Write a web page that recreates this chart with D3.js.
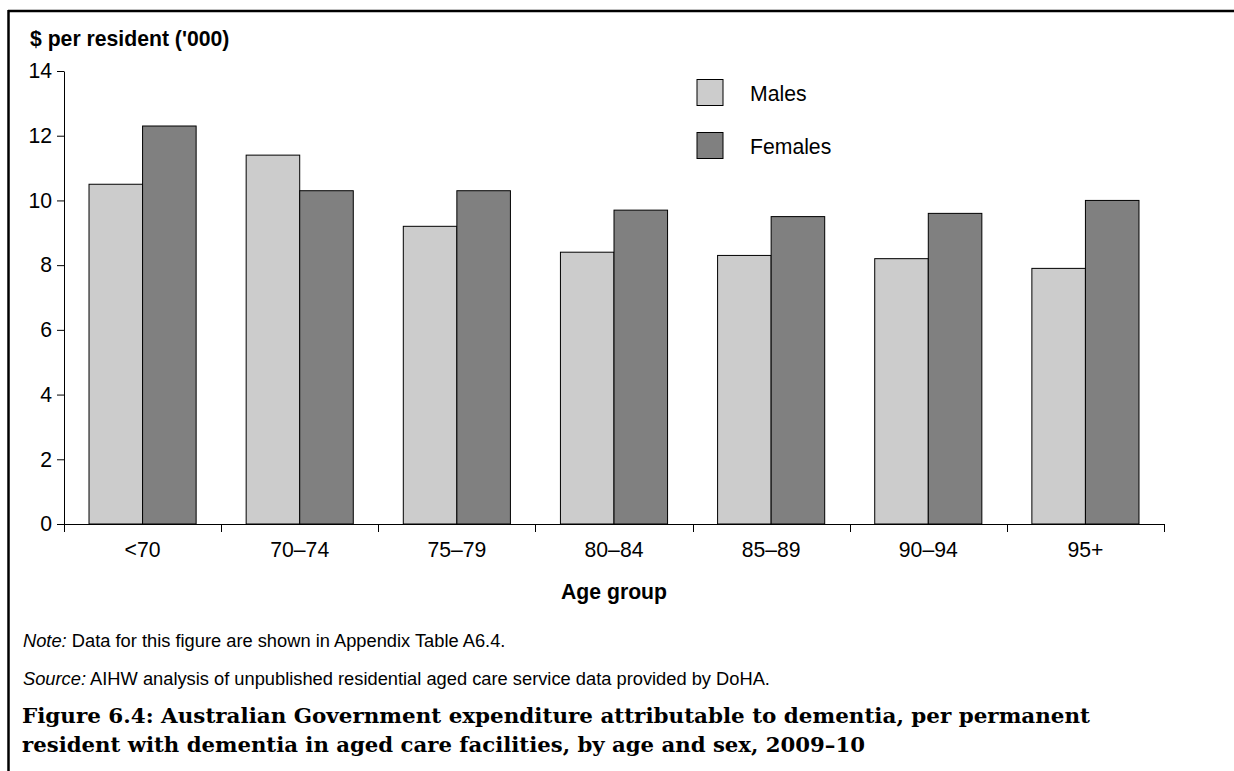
<!DOCTYPE html>
<html>
<head>
<meta charset="utf-8">
<script src="https://cdn.jsdelivr.net/npm/d3@7"></script>
<style>
  body { margin: 0; background: #fff; }
  svg { display: block; }
  text { font-family: "Liberation Sans", Arial, sans-serif; fill: #000; }
</style>
</head>
<body>
<div id="chart"></div>
<script>
var ageGroups = ["<70", "70–74", "75–79", "80–84", "85–89", "90–94", "95+"];
var seriesNames = ["Males", "Females"];
var males = [10.5, 11.4, 9.2, 8.4, 8.3, 8.2, 7.9];
var females = [12.3, 10.3, 10.3, 9.7, 9.5, 9.6, 10.0];
var yTicks = [0, 2, 4, 6, 8, 10, 12, 14];
var colours = { Males: "#cccccc", Females: "#808080" };

var W = 1234, H = 771;
var fs = "21.2px";

var svg = d3.select("#chart").append("svg")
    .attr("width", W)
    .attr("height", H);

// frame (top + left)
svg.append("line")
    .attr("x1", 8).attr("x2", W).attr("y1", 11).attr("y2", 11)
    .attr("stroke", "#000").attr("stroke-width", 2.5);
svg.append("line")
    .attr("x1", 8.5).attr("x2", 8.5).attr("y1", 10).attr("y2", H)
    .attr("stroke", "#000").attr("stroke-width", 2.5);

var plot = { left: 64, right: 1164, top: 71, bottom: 524 };

var x0 = d3.scaleBand()
    .domain(ageGroups)
    .range([plot.left, plot.right])
    .padding(0);

var x1 = d3.scaleBand()
    .domain(seriesNames)
    .range([0, x0.bandwidth()])
    .paddingInner(0)
    .paddingOuter(0.467);

var y = d3.scaleLinear()
    .domain([0, 14])
    .range([plot.bottom, plot.top]);

var rows = ageGroups.map(function(d, i){
  return { group: d, values: [ { key: "Males", value: males[i] }, { key: "Females", value: females[i] } ] };
});

// bars
var groups = svg.selectAll(".group").data(rows)
  .enter().append("g")
    .attr("class", "group")
    .attr("transform", function(d){ return "translate(" + x0(d.group) + ",0)"; });

groups.selectAll("rect").data(function(d){ return d.values; })
  .enter().append("rect")
    .attr("x", function(d){ return x1(d.key); })
    .attr("width", x1.bandwidth())
    .attr("y", function(d){ return y(d.value); })
    .attr("height", function(d){ return y(0) - y(d.value); })
    .attr("fill", function(d){ return colours[d.key]; })
    .attr("stroke", "#000")
    .attr("stroke-width", 1);

// y axis
var yAxis = svg.append("g")
    .attr("transform", "translate(" + plot.left + ",0)")
    .call(d3.axisLeft(y).tickValues(yTicks).tickSize(7).tickPadding(5).tickSizeOuter(0));
yAxis.select(".domain").attr("stroke", "#000");
yAxis.selectAll(".tick line").attr("stroke", "#000");
yAxis.selectAll("text")
    .style("font-family", "'Liberation Sans', Arial, sans-serif")
    .style("font-size", fs)
    .attr("fill", "#000");

// x axis: boundary ticks between groups
var xAxisG = svg.append("g");
xAxisG.append("line")
    .attr("x1", plot.left).attr("x2", plot.right)
    .attr("y1", y(0) + 0.5).attr("y2", y(0) + 0.5)
    .attr("stroke", "#000");
var boundaries = ageGroups.map(function(d){ return x0(d); }).concat([x0(ageGroups[ageGroups.length - 1]) + x0.bandwidth()]);
xAxisG.selectAll(".xtick").data(boundaries)
  .enter().append("line")
    .attr("class", "xtick")
    .attr("x1", function(d){ return Math.round(d) + 0.5; })
    .attr("x2", function(d){ return Math.round(d) + 0.5; })
    .attr("y1", y(0)).attr("y2", y(0) + 8)
    .attr("stroke", "#000");
xAxisG.selectAll(".xlabel").data(ageGroups)
  .enter().append("text")
    .attr("class", "xlabel")
    .attr("x", function(d){ return x0(d) + x0.bandwidth() / 2; })
    .attr("y", 557)
    .attr("text-anchor", "middle")
    .style("font-size", fs)
    .text(function(d){ return d; });

// axis titles
svg.append("text")
    .attr("x", 30).attr("y", 46)
    .style("font-size", fs).style("font-weight", "bold")
    .text("$ per resident ('000)");

svg.append("text")
    .attr("x", (plot.left + plot.right) / 2).attr("y", 599)
    .attr("text-anchor", "middle")
    .style("font-size", fs).style("font-weight", "bold")
    .text("Age group");

// legend
var legend = svg.selectAll(".legend").data(seriesNames)
  .enter().append("g")
    .attr("class", "legend")
    .attr("transform", function(d, i){ return "translate(697," + (79.5 + i * 53) + ")"; });
legend.append("rect")
    .attr("width", 26).attr("height", 26)
    .attr("fill", function(d){ return colours[d]; })
    .attr("stroke", "#000");
legend.append("text")
    .attr("x", 53).attr("y", 21)
    .style("font-size", fs)
    .text(function(d){ return d; });

// notes
var note = svg.append("text").attr("x", 23).attr("y", 647).style("font-size", "18.3px");
note.append("tspan").style("font-style", "italic").text("Note:");
note.append("tspan").text(" Data for this figure are shown in Appendix Table A6.4.");

var src = svg.append("text").attr("x", 23).attr("y", 685).style("font-size", "18.3px");
src.append("tspan").style("font-style", "italic").text("Source:");
src.append("tspan").text(" AIHW analysis of unpublished residential aged care service data provided by DoHA.");

// figure caption
var captionLines = [
  { text: "Figure 6.4: Australian Government expenditure attributable to dementia, per permanent", y: 723, len: 1068 },
  { text: "resident with dementia in aged care facilities, by age and sex, 2009–10", y: 752, len: 843 }
];
svg.selectAll(".caption").data(captionLines)
  .enter().append("text")
    .attr("class", "caption")
    .attr("x", 22)
    .attr("y", function(d){ return d.y; })
    .attr("textLength", function(d){ return d.len; })
    .attr("lengthAdjust", "spacingAndGlyphs")
    .style("font-family", "'DejaVu Serif', 'Liberation Serif', serif")
    .style("font-weight", "bold")
    .style("font-size", "20px")
    .text(function(d){ return d.text; });
</script>
</body>
</html>
